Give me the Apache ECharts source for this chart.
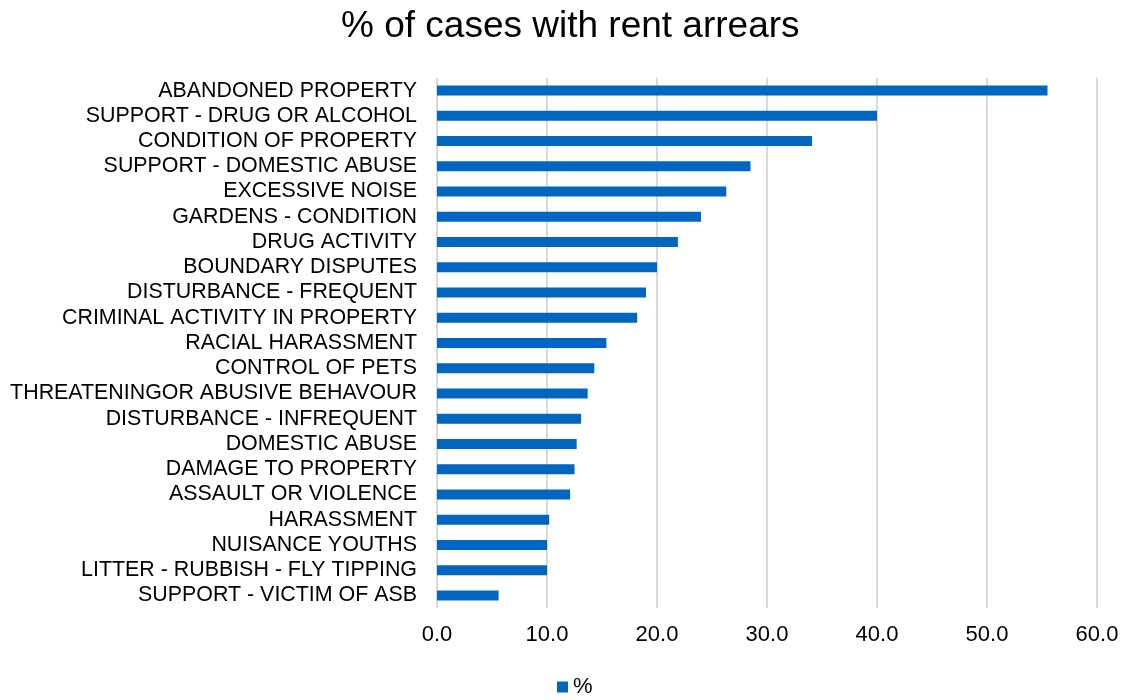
<!DOCTYPE html>
<html>
<head>
<meta charset="utf-8">
<script src="https://cdn.jsdelivr.net/npm/echarts@6/dist/echarts.min.js"></script>
<style>
  html, body { margin: 0; padding: 0; background: #fff; }
  #chart { width: 1127px; height: 700px; }
</style>
</head>
<body>
<div id="chart"></div>
<script>
// categories top to bottom, as in the picture
const categories = [
  'ABANDONED PROPERTY',
  'SUPPORT - DRUG OR ALCOHOL',
  'CONDITION OF PROPERTY',
  'SUPPORT - DOMESTIC ABUSE',
  'EXCESSIVE NOISE',
  'GARDENS - CONDITION',
  'DRUG ACTIVITY',
  'BOUNDARY DISPUTES',
  'DISTURBANCE - FREQUENT',
  'CRIMINAL ACTIVITY IN PROPERTY',
  'RACIAL HARASSMENT',
  'CONTROL OF PETS',
  'THREATENINGOR ABUSIVE BEHAVOUR',
  'DISTURBANCE - INFREQUENT',
  'DOMESTIC ABUSE',
  'DAMAGE TO PROPERTY',
  'ASSAULT OR VIOLENCE',
  'HARASSMENT',
  'NUISANCE YOUTHS',
  'LITTER - RUBBISH - FLY TIPPING',
  'SUPPORT - VICTIM OF ASB'
]
const pctValues = [
  55.5, 40.0, 34.1, 28.5, 26.3, 24.0, 21.9, 20.0, 19.0, 18.2, 15.4,
  14.3, 13.7, 13.1, 12.7, 12.5, 12.1, 10.2, 10.0, 10.0, 5.6
]
const seriesName = '%'

let myChart = echarts.init(document.getElementById('chart'))
myChart.setOption({
  animation: false,
  title: {
    text: '% of cases with rent arrears',
    left: 336,
    top: 3,
    textStyle: {
      fontFamily: 'Liberation Sans',
      fontSize: 37,
      fontWeight: 'normal',
      color: '#000'
    }
  },
  legend: {
    data: [seriesName],
    bottom: 2,
    left: 557,
    padding: 0,
    itemWidth: 11,
    itemHeight: 11,
    itemGap: 5,
    icon: 'rect',
    textStyle: { fontFamily: 'Liberation Sans', fontSize: 22, color: '#000' }
  },
  grid: {
    left: 437,
    right: 30,
    top: 78,
    bottom: 92
  },
  xAxis: {
    type: 'value',
    min: 0,
    max: 60,
    interval: 10,
    axisLine: { show: false },
    axisTick: { show: false },
    axisLabel: {
      formatter: v => v.toFixed(1),
      margin: 16,
      fontFamily: 'Liberation Sans',
      fontSize: 22,
      color: '#000'
    },
    splitLine: {
      show: true,
      lineStyle: { color: '#d9d9d9', width: 2, type: 'solid' }
    }
  },
  yAxis: {
    type: 'category',
    inverse: true,
    data: categories,
    axisLine: { show: false },
    axisTick: { show: false },
    axisLabel: {
      interval: 0,
      margin: 20,
      fontFamily: 'Liberation Sans',
      fontSize: 21.4,
      color: '#000'
    }
  },
  series: [
    {
      name: seriesName,
      type: 'bar',
      barWidth: 10,
      color: '#0066c0',
      data: pctValues
    }
  ]
})
</script>
</body>
</html>
